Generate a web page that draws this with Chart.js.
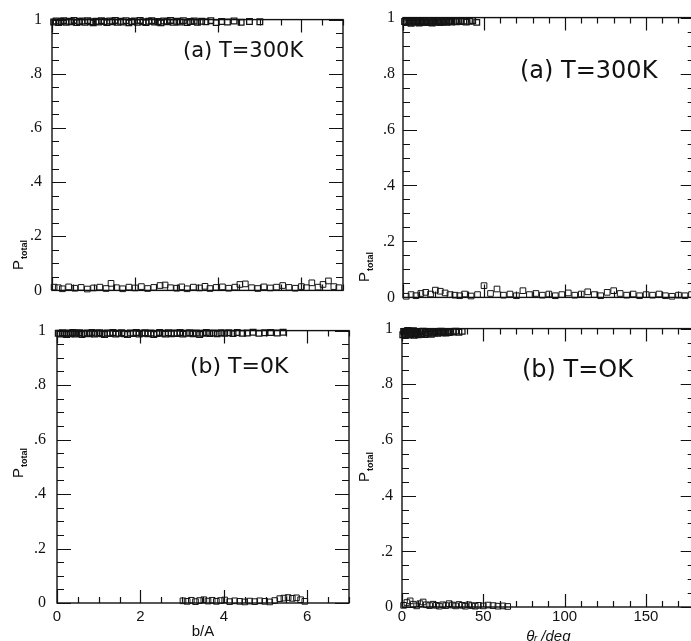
<!DOCTYPE html>
<html><head><meta charset="utf-8">
<script src="https://cdn.jsdelivr.net/npm/chart.js@4/dist/chart.umd.min.js"></script>
<style>
html,body{margin:0;padding:0;background:#fff;overflow:hidden;width:691px;height:641px;position:relative;}
canvas{position:absolute;}
.note{position:absolute;font-family:"DejaVu Sans";color:#111;white-space:nowrap;line-height:1;}
</style></head><body>
<canvas id="c1" width="350" height="310" style="left:0;top:0"></canvas>
<canvas id="c2" width="360" height="331" style="left:0;top:310px"></canvas>
<canvas id="c3" width="350" height="315" style="left:350px;top:0"></canvas>
<canvas id="c4" width="350" height="345" style="left:350px;top:310px"></canvas>
<div class="note" style="left:183px;top:40px;font-size:21px">(a) T=300K</div>
<div class="note" style="left:520px;top:58px;font-size:24px">(a) T=300K</div>
<div class="note" style="left:190px;top:355px;font-size:22px">(b) T=0K</div>
<div class="note" style="left:522px;top:357px;font-size:24px">(b) T=OK</div>
<script>
// ---- (a) T=300K, P_total vs b/A ----
const aHighB = [0.04,0.10,0.16,0.22,0.28,0.34,0.41,0.47,0.53,0.60,
  0.66,0.72,0.79,0.86,0.92,0.99,1.06,1.12,1.19,1.25,
  1.32,1.39,1.45,1.52,1.58,1.65,1.72,1.78,1.85,1.92,
  1.98,2.05,2.12,2.19,2.26,2.33,2.40,2.47,2.55,2.62,
  2.69,2.77,2.85,2.92,3.00,3.08,3.16,3.25,3.33,3.42,
  3.50,3.60,3.70,3.82,3.95,4.08,4.22,4.38,4.55,4.75,
  5.00];
const aHighP = [0.991,0.995,0.989,0.993,0.996,0.990,0.994,0.992,0.997,0.989,
  0.993,0.995,0.990,0.996,0.992,0.988,0.994,0.991,0.996,0.993,
  0.989,0.995,0.992,0.997,0.990,0.994,0.991,0.996,0.988,0.993,
  0.995,0.990,0.997,0.992,0.989,0.994,0.996,0.991,0.993,0.988,
  0.995,0.992,0.997,0.990,0.994,0.991,0.996,0.989,0.993,0.995,
  0.990,0.994,0.992,0.996,0.989,0.993,0.991,0.995,0.990,0.993,
  0.992];
const aLowB = [0.05,0.15,0.25,0.40,0.55,0.70,0.85,1.00,1.15,1.30,
  1.42,1.55,1.70,1.85,2.00,2.15,2.30,2.45,2.60,2.72,
  2.85,3.00,3.12,3.25,3.40,3.55,3.68,3.80,3.95,4.10,
  4.25,4.40,4.52,4.65,4.80,4.95,5.10,5.25,5.40,5.55,
  5.70,5.85,6.00,6.12,6.25,6.40,6.52,6.65,6.78,6.90];
const aLowP = [0.012,0.010,0.006,0.013,0.008,0.011,0.005,0.009,0.012,0.007,
  0.026,0.010,0.006,0.012,0.009,0.014,0.007,0.011,0.018,0.020,
  0.010,0.008,0.013,0.006,0.012,0.009,0.015,0.007,0.011,0.013,
  0.008,0.012,0.022,0.024,0.010,0.007,0.013,0.009,0.012,0.018,
  0.011,0.008,0.014,0.010,0.028,0.012,0.022,0.035,0.014,0.010];
// ---- (b) T=0K, P_total vs b/A ----
const bHighB = [0.03,0.08,0.13,0.18,0.23,0.28,0.33,0.38,0.43,0.48,
  0.54,0.60,0.66,0.72,0.78,0.84,0.90,0.96,1.02,1.08,
  1.14,1.20,1.27,1.34,1.41,1.48,1.55,1.62,1.69,1.76,
  1.83,1.90,1.97,2.04,2.11,2.18,2.25,2.32,2.39,2.46,
  2.53,2.60,2.67,2.74,2.81,2.88,2.95,3.02,3.10,3.18,
  3.26,3.34,3.42,3.50,3.58,3.66,3.75,3.84,3.93,4.02,
  4.12,4.22,4.32,4.44,4.56,4.70,4.84,4.98,5.12,5.28,
  5.42];
const bHighP = [0.990,0.987,0.992,0.989,0.986,0.991,0.988,0.993,0.987,0.990,
  0.992,0.986,0.989,0.991,0.988,0.993,0.987,0.990,0.992,0.988,
  0.986,0.991,0.989,0.993,0.987,0.990,0.992,0.988,0.986,0.991,
  0.989,0.993,0.987,0.990,0.992,0.988,0.991,0.986,0.989,0.993,
  0.990,0.987,0.992,0.988,0.991,0.989,0.993,0.987,0.990,0.992,
  0.988,0.991,0.986,0.990,0.993,0.989,0.991,0.988,0.992,0.990,
  0.992,0.989,0.993,0.990,0.991,0.994,0.990,0.992,0.993,0.991,
  0.994];
const bLowB = [3.02,3.12,3.22,3.32,3.42,3.52,3.62,3.72,3.82,3.92,
  4.02,4.14,4.26,4.38,4.50,4.62,4.74,4.86,4.98,5.10,
  5.22,5.34,5.44,5.54,5.64,5.74,5.84,5.94];
const bLowP = [0.008,0.006,0.010,0.005,0.009,0.012,0.007,0.010,0.006,0.009,
  0.011,0.005,0.008,0.006,0.004,0.007,0.005,0.008,0.006,0.004,
  0.009,0.016,0.018,0.020,0.017,0.019,0.012,0.006];
// ---- (a) T=300K, P_total vs theta/deg ----
const cHighT = [1,2,3,4,5,6,7,8,9,10,
  11,12,13,14,15,16,17,18,19,20,
  21,22,23,24,25,26,27,28,29,30,
  31.5,33,34.5,36,37.5,39,41,43,45.5];
const cHighP = [0.986,0.982,0.988,0.984,0.980,0.987,0.983,0.989,0.985,0.981,
  0.986,0.983,0.988,0.982,0.985,0.989,0.984,0.981,0.987,0.983,
  0.988,0.985,0.982,0.987,0.984,0.989,0.983,0.986,0.988,0.984,
  0.987,0.985,0.989,0.986,0.988,0.984,0.987,0.989,0.983];
const cLowT = [2,5,8,11,14,17,20,23,26,29,
  32,35,38,42,46,50,54,58,62,66,
  70,74,78,82,86,90,94,98,102,106,
  110,114,118,122,126,130,134,138,142,146,
  150,154,158,162,166,170,174,178];
const cLowP = [0.004,0.010,0.006,0.014,0.018,0.012,0.026,0.022,0.016,0.010,
  0.008,0.006,0.012,0.005,0.010,0.042,0.014,0.030,0.008,0.012,
  0.006,0.024,0.010,0.014,0.008,0.012,0.006,0.010,0.016,0.008,
  0.012,0.020,0.010,0.006,0.018,0.024,0.014,0.008,0.012,0.006,
  0.010,0.008,0.012,0.006,0.004,0.008,0.006,0.010];
// ---- (b) T=0K, P_total vs theta/deg ----
const dHighT = [0.5,1,1.5,2,2.5,3,3.5,4,4.5,5,
  5.5,6,6.5,7,7.5,8,8.5,9,9.5,10,
  11,12,13,14,15,16,17,18,19,20,
  21,22,23,24,25,26,27,28,29,30,
  31.5,33,35,37];
const dHighP = [0.978,0.990,0.983,0.975,0.988,0.980,0.993,0.977,0.985,0.991,
  0.979,0.987,0.982,0.992,0.976,0.986,0.981,0.990,0.984,0.978,
  0.988,0.982,0.991,0.979,0.986,0.983,0.990,0.980,0.987,0.984,
  0.989,0.983,0.987,0.991,0.985,0.988,0.984,0.990,0.986,0.989,
  0.988,0.991,0.987,0.990];
const dLowT = [1,3,5,7,9,11,13,15,17,19,
  21,23,25,27,29,31,33,35,37,39,
  41,43,45,47,50,53,56,59,62,65];
const dLowP = [0.006,0.016,0.022,0.010,0.004,0.012,0.018,0.008,0.005,0.010,
  0.006,0.003,0.008,0.005,0.012,0.007,0.004,0.009,0.006,0.003,
  0.008,0.005,0.003,0.006,0.004,0.007,0.005,0.003,0.004,0.002];

const yTickValues = [0, 0.2, 0.4, 0.6, 0.8, 1];
const yTickText = ['0', '.2', '.4', '.6', '.8', '1'];

const frameTicks = {
  id: 'frameTicks',
  afterDatasetsDraw(chart, args, o) {
    const {ctx, chartArea: a, scales: {x, y}} = chart;
    ctx.save();
    ctx.strokeStyle = '#111';
    ctx.lineWidth = 1.4;
    ctx.strokeRect(a.left, a.top, a.right - a.left, a.bottom - a.top);
    ctx.lineWidth = 1.2;
    ctx.beginPath();
    const nx = Math.round((x.max - x.min) / o.xMinor);
    for (let i = 0; i <= nx; i++) {
      const v = x.min + i * o.xMinor;
      const maj = Math.abs(v / o.xMajor - Math.round(v / o.xMajor)) < 1e-6;
      const L = maj ? o.xMajLen : o.xMinLen;
      const px = Math.round(x.getPixelForValue(v)) + 0.5;
      ctx.moveTo(px, a.bottom); ctx.lineTo(px, a.bottom - L);
      ctx.moveTo(px, a.top); ctx.lineTo(px, a.top + L);
    }
    const ny = Math.round((y.max - y.min) / 0.05);
    for (let i = 0; i <= ny; i++) {
      const v = y.min + i * 0.05;
      const maj = i % 4 === 0;
      const L = maj ? 14 : 7;
      const py = Math.round(y.getPixelForValue(v)) + 0.5;
      ctx.moveTo(a.left, py); ctx.lineTo(a.left + L, py);
      ctx.moveTo(a.right, py); ctx.lineTo(a.right - L, py);
    }
    ctx.stroke();
    ctx.fillStyle = '#111';
    ctx.translate(o.labelX, o.labelY);
    ctx.rotate(-Math.PI / 2);
    ctx.textBaseline = 'alphabetic';
    ctx.textAlign = 'left';
    ctx.font = '15px "Liberation Sans"';
    ctx.fillText('P', 0, 0);
    const w = ctx.measureText('P').width;
    ctx.font = 'bold 9px "Liberation Sans"';
    ctx.fillText('total', w + 1, 4);
    ctx.restore();
  }
};

function pts(xs, ys) { return xs.map((v, i) => ({x: v, y: ys[i]})); }

function makeChart(id, c) {
  return new Chart(document.getElementById(id), {
    type: 'scatter',
    data: {
      datasets: c.sets.map((s, k) => ({
        data: s,
        pointStyle: 'rect', pointRadius: 4, borderWidth: k === 0 ? 1.3 : 1,
        borderColor: '#151515', backgroundColor: 'rgba(255,255,255,0)', clip: false
      }))
    },
    options: {
      responsive: false, animation: false, devicePixelRatio: 1,
      layout: {padding: {top: c.padTop, right: c.padRight, left: 0, bottom: 0}},
      plugins: {
        legend: {display: false}, tooltip: {enabled: false},
        frameTicks: {xMinor: c.xMinor, xMajor: c.xMajor, xMinLen: 6, xMajLen: 13, labelX: c.labelX, labelY: c.labelY}
      },
      scales: {
        x: {
          type: 'linear', min: c.xMin, max: c.xMax,
          grid: {display: false, drawTicks: false}, border: {display: false},
          ticks: {display: c.xLabels, stepSize: c.xStep, includeBounds: false, padding: c.xPad, color: '#111',
                  maxRotation: 0, autoSkip: false, font: {family: '"Liberation Sans"', size: 15}},
          title: {display: !!c.xTitle, text: c.xTitle || '', color: '#111', padding: {top: 0, bottom: c.titlePad || 0},
                  font: {family: '"Liberation Sans"', size: 15, style: c.xTitleStyle || 'normal'}},
          afterFit: s => { s.height = c.xH; }
        },
        y: {
          type: 'linear', min: 0, max: 1,
          grid: {display: false, drawTicks: false}, border: {display: false},
          afterBuildTicks: s => { s.ticks = yTickValues.map(v => ({value: v})); },
          ticks: {padding: c.yPad, color: '#111', autoSkip: false,
                  callback: v => yTickText[yTickValues.indexOf(Math.round(v * 10) / 10)],
                  font: {family: '"Liberation Serif"', size: 16}},
          afterFit: s => { s.width = c.yW; }
        }
      }
    },
    plugins: [frameTicks]
  });
}

makeChart('c1', {
  sets: [pts(aHighB, aHighP), pts(aLowB, aLowP)],
  padTop: 14, padRight: 7, yW: 52, xH: 13, xMin: 0, xMax: 7, xStep: 2, xLabels: false, xPad: 0,
  xMinor: 0.5, xMajor: 2, yPad: 10, labelX: 23, labelY: 270
});
makeChart('c2', {
  sets: [pts(bHighB, bHighP), pts(bLowB, bLowP)],
  padTop: 8, padRight: 11, yW: 57, xH: 38, xMin: 0, xMax: 7, xStep: 2, xLabels: true, xPad: 5,
  xTitle: 'b/A', titlePad: 0, xMinor: 0.5, xMajor: 2, yPad: 11, labelX: 23, labelY: 168
});
makeChart('c3', {
  sets: [pts(cHighT, cHighP), pts(cLowT, cLowP)],
  padTop: 15, padRight: 4, yW: 53, xH: 13, xMin: 0, xMax: 180, xStep: 50, xLabels: false, xPad: 0,
  xMinor: 10, xMajor: 50, yPad: 8, labelX: 19, labelY: 282
});
makeChart('c4', {
  sets: [pts(dHighT, dHighP), pts(dLowT, dLowP)],
  padTop: 10, padRight: 5, yW: 52, xH: 48, xMin: 0, xMax: 180, xStep: 50, xLabels: true, xPad: 1,
  xTitle: 'θᵣ /deg', xTitleStyle: 'italic', titlePad: 9, xMinor: 10, xMajor: 50, yPad: 9, labelX: 19, labelY: 172
});
</script>
</body></html>
